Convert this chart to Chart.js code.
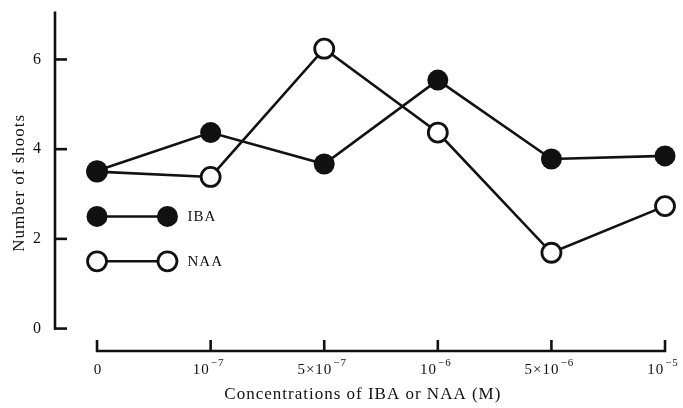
<!DOCTYPE html>
<html>
<head>
<meta charset="utf-8">
<script src="https://cdn.jsdelivr.net/npm/chart.js@4.4.1/dist/chart.umd.min.js"></script>
<style>
  html, body { margin: 0; padding: 0; background: #fff; }
  #wrap { width: 683px; height: 408px; }
</style>
</head>
<body>
<div id="wrap"><canvas id="shoots"></canvas></div>
<script>

// data
const concBase = ['0', '10', '5\u00D710', '10', '5\u00D710', '10'];
const concExp = ['', '\u22127', '\u22127', '\u22126', '\u22126', '\u22125'];
const ibaShoots = [3.52, 4.37, 3.67, 5.54, 3.78, 3.85];
const naaShoots = [3.5, 3.38, 6.24, 4.37, 1.69, 2.73];
const yTicks = [0, 2, 4, 6];

const ink = '#111';
const serif = "'Liberation Serif', 'DejaVu Serif', serif";

function toPoints(list){
  return list.map(function(v, i){ return {x: i, y: v}; });
}

// old print style: a bit of letter spacing everywhere
const spacing = {
  id: 'spacing',
  beforeDraw(chart){
    chart.ctx.letterSpacing = '1px';
  }
};

// hand drawn looking axes + x labels + legend
const paperAxes = {
  id: 'paperAxes',
  beforeDatasetsDraw(chart){
    const ctx = chart.ctx;
    const xs = chart.scales.x;
    const ys = chart.scales.y;
    const area = chart.chartArea;
    ctx.save();
    ctx.strokeStyle = ink;
    ctx.lineWidth = 2.6;
    ctx.lineCap = 'butt';

    // y axis
    const ax = area.left;
    ctx.beginPath();
    ctx.moveTo(ax, ys.getPixelForValue(0) + 1);
    ctx.lineTo(ax, area.top - 3);
    ctx.stroke();
    yTicks.forEach(function(t){
      const py = ys.getPixelForValue(t);
      ctx.beginPath();
      ctx.moveTo(ax - 1, py);
      ctx.lineTo(ax + 12, py);
      ctx.stroke();
    });

    // x axis (separate, below)
    const by = area.bottom;
    ctx.beginPath();
    ctx.moveTo(xs.getPixelForValue(0) - 1, by);
    ctx.lineTo(xs.getPixelForValue(concBase.length - 1) + 1, by);
    ctx.stroke();
    concBase.forEach(function(l, i){
      const px = xs.getPixelForValue(i);
      ctx.beginPath();
      ctx.moveTo(px, by + 1);
      ctx.lineTo(px, by - 11);
      ctx.stroke();
    });

    // tick labels with real superscripts
    ctx.fillStyle = ink;
    ctx.textBaseline = 'alphabetic';
    ctx.textAlign = 'left';
    concBase.forEach(function(b, i){
      const px = xs.getPixelForValue(i);
      ctx.font = '15px ' + serif;
      const wb = ctx.measureText(b).width;
      ctx.font = '11px ' + serif;
      const we = concExp[i] ? ctx.measureText(concExp[i]).width + 1 : 0;
      const x0 = px - (wb + we) / 2 - (we ? 2 : -1);
      ctx.font = '15px ' + serif;
      ctx.fillText(b, x0, by + 23);
      if(concExp[i]){
        ctx.font = '11px ' + serif;
        ctx.fillText(concExp[i], x0 + wb + 1, by + 15);
      }
    });
    ctx.restore();
  },
  afterDatasetsDraw(chart){
    const ctx = chart.ctx;
    const xs = chart.scales.x;
    const ys = chart.scales.y;
    const rows = [
      {name: 'IBA', y: 2.5, fill: true},
      {name: 'NAA', y: 1.5, fill: false}
    ];
    ctx.save();
    rows.forEach(function(r){
      const py = ys.getPixelForValue(r.y);
      const x1 = xs.getPixelForValue(0);
      const x2 = xs.getPixelForValue(0.62);
      ctx.strokeStyle = ink;
      ctx.lineWidth = 2.6;
      ctx.beginPath();
      ctx.moveTo(x1, py);
      ctx.lineTo(x2, py);
      ctx.stroke();
      [x1, x2].forEach(function(px){
        ctx.beginPath();
        ctx.arc(px, py, r.fill ? 10.5 : 9.5, 0, Math.PI * 2);
        ctx.fillStyle = r.fill ? ink : '#fff';
        ctx.fill();
        if(!r.fill){
          ctx.lineWidth = 2.8;
          ctx.stroke();
        }
      });
      ctx.fillStyle = ink;
      ctx.font = '15px ' + serif;
      ctx.textBaseline = 'middle';
      ctx.fillText(r.name, x2 + 20, py + 1);
    });
    ctx.restore();
  }
};

const config = {
  type: 'line',
  data: {
    datasets: [
      {
        label: 'IBA',
        data: toPoints(ibaShoots),
        borderColor: ink,
        borderWidth: 2.6,
        backgroundColor: ink,
        pointBackgroundColor: ink,
        pointBorderColor: ink,
        pointBorderWidth: 0,
        pointRadius: 10.5,
        fill: false,
        tension: 0
      },
      {
        label: 'NAA',
        data: toPoints(naaShoots),
        borderColor: ink,
        borderWidth: 2.6,
        pointBackgroundColor: '#fff',
        pointBorderColor: ink,
        pointBorderWidth: 2.8,
        pointRadius: 9.5,
        fill: false,
        tension: 0
      }
    ]
  },
  options: {
    responsive: true,
    maintainAspectRatio: false,
    animation: false,
    clip: false,
    layout: { padding: { top: 8, right: 10, left: 0, bottom: 0 } },
    plugins: {
      legend: { display: false },
      tooltip: { enabled: false }
    },
    scales: {
      x: {
        type: 'linear',
        min: -0.37,
        max: 5.05,
        grid: { display: false },
        border: { display: false },
        afterBuildTicks: function(axis){
          axis.ticks = concBase.map(function(l, i){ return {value: i}; });
        },
        afterFit: function(axis){ axis.height = 57; },
        ticks: { display: false },
        title: {
          display: true,
          text: 'Concentrations of IBA or NAA (M)',
          color: ink,
          font: { family: serif, size: 17 },
          padding: { top: 0, bottom: 3 }
        }
      },
      y: {
        min: -0.5,
        max: 7,
        grid: { display: false },
        border: { display: false },
        afterBuildTicks: function(axis){
          axis.ticks = yTicks.map(function(t){ return {value: t}; });
        },
        afterFit: function(axis){ axis.width = 55; },
        ticks: {
          padding: 5,
          color: ink,
          font: { family: serif, size: 16 }
        },
        title: {
          display: true,
          text: 'Number of shoots',
          color: ink,
          font: { family: serif, size: 17 },
          padding: { top: 9, bottom: 0 }
        }
      }
    }
  },
  plugins: [spacing, paperAxes]
};

const chart = new Chart('shoots', config);
</script>
</body>
</html>
